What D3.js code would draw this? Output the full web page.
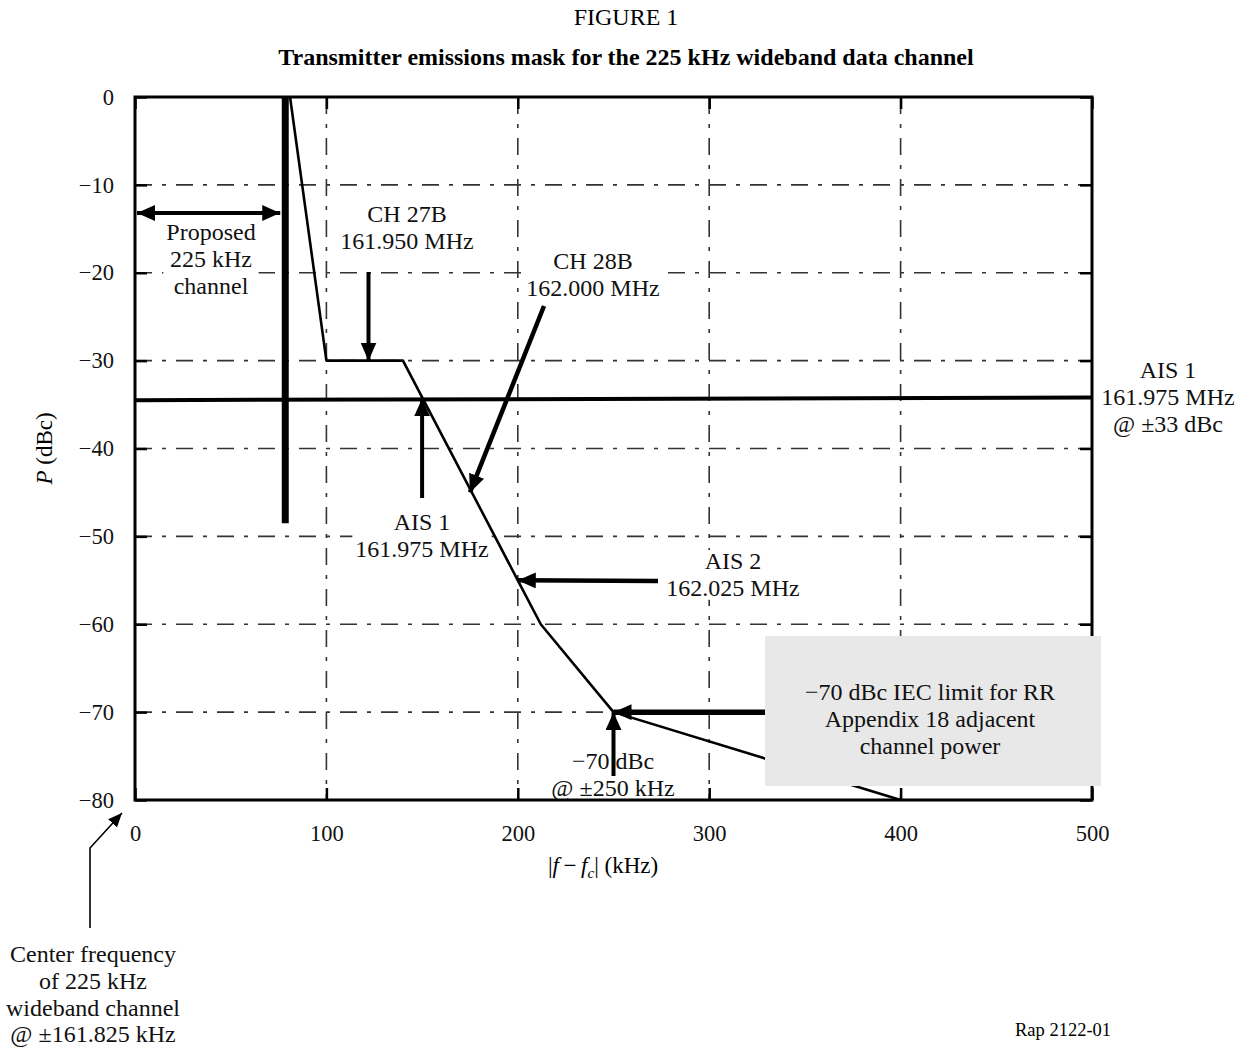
<!DOCTYPE html>
<html>
<head>
<meta charset="utf-8">
<script src="https://cdn.jsdelivr.net/npm/d3@7"></script>
<style>
  body { margin: 0; background: #fff; }
  svg { display: block; font-family: "Liberation Serif", "DejaVu Serif", serif; }
</style>
</head>
<body>
<svg id="chart" width="1253" height="1048"></svg>
<script>
// Emission mask (|f - fc| in kHz vs relative power in dBc)
const maskKHz = [81, 100, 140, 200, 212, 250, 400];
const maskDBc = [0, -30, -30, -55, -60, -70, -80];

// Edge of the proposed 225 kHz channel (vertical bar)
const channelEdgeKHz = 78.5;
const channelBarDBc = [0, -48.5];

// AIS 1 level line across the plot
const aisLineKHz = [0, 500];
const aisLineDBc = [-34.5, -34.2];

// Axis ticks
const xTicks = [0, 100, 200, 300, 400, 500];
const yTicks = [0, -10, -20, -30, -40, -50, -60, -70, -80];
const gridX = [100, 200, 300, 400];
const gridY = [-10, -20, -30, -40, -50, -60, -70];

const svg = d3.select("#chart");
const x = d3.scaleLinear().domain([0, 500]).range([135, 1092]);
const y = d3.scaleLinear().domain([-80, 0]).range([800, 97]);
const fmt = d => d < 0 ? "\u2212" + Math.abs(d) : String(d);

// Titles
svg.append("text").attr("x", 626).attr("y", 25).attr("text-anchor", "middle")
  .attr("font-size", 24).text("FIGURE 1");
svg.append("text").attr("x", 626).attr("y", 65).attr("text-anchor", "middle")
  .attr("font-size", 24).attr("font-weight", "bold")
  .text("Transmitter emissions mask for the 225 kHz wideband data channel");

// Dash-dot grid
const grid = svg.append("g").attr("stroke", "#333").attr("stroke-width", 1.6)
  .attr("stroke-dasharray", "17,10,4,10").attr("fill", "none");
grid.selectAll("line.gx").data(gridX).join("line")
  .attr("x1", d => x(d)).attr("x2", d => x(d)).attr("y1", y(0)).attr("y2", y(-80));
grid.selectAll("line.gy").data(gridY).join("line")
  .attr("y1", d => y(d)).attr("y2", d => y(d)).attr("x1", x(0)).attr("x2", x(500));

// Axes with inward ticks
const tickStyle = g => {
  g.select(".domain").remove();
  g.selectAll(".tick line").attr("stroke", "#000").attr("stroke-width", 2.5);
  g.selectAll(".tick text").attr("font-size", 22.5).attr("fill", "#111")
    .attr("font-family", "Liberation Serif, serif");
};
svg.append("g").attr("transform", `translate(${x(0)},0)`)
  .call(d3.axisLeft(y).tickValues(yTicks).tickFormat(fmt).tickSizeInner(-12).tickSizeOuter(0).tickPadding(21))
  .call(tickStyle);
svg.append("g").attr("transform", `translate(${x(500)},0)`)
  .call(d3.axisRight(y).tickValues(yTicks).tickFormat("").tickSizeInner(-12).tickSizeOuter(0))
  .call(tickStyle);
svg.append("g").attr("transform", `translate(0,${y(-80)})`)
  .call(d3.axisBottom(x).tickValues(xTicks).tickFormat(d => d).tickSizeInner(-12).tickSizeOuter(0).tickPadding(25))
  .call(tickStyle);
svg.append("g").attr("transform", `translate(0,${y(0)})`)
  .call(d3.axisTop(x).tickValues(xTicks).tickFormat("").tickSizeInner(-12).tickSizeOuter(0))
  .call(tickStyle);

// Axis titles
const yt = svg.append("text").attr("transform", `translate(52,${y(-40)}) rotate(-90)`)
  .attr("text-anchor", "middle").attr("font-size", 23);
yt.append("tspan").attr("font-style", "italic").text("P");
yt.append("tspan").text(" (dBc)");
const xt = svg.append("text").attr("x", 603).attr("y", 873).attr("text-anchor", "middle").attr("font-size", 23);
xt.append("tspan").text("|");
xt.append("tspan").attr("font-style", "italic").text("f");
xt.append("tspan").text("\u2009\u2212\u2009");
xt.append("tspan").attr("font-style", "italic").text("f");
xt.append("tspan").attr("font-style", "italic").attr("font-size", 15).attr("dy", 5).text("c");
xt.append("tspan").attr("dy", -5).text("| (kHz)");

// Text labels; most sit on a white patch so the grid does not run through them
const labelLayer = svg.append("g");
function label(cx, y0, lines, opts) {
  const o = opts || {};
  const g = labelLayer.append("g");
  const bg = g.append("rect").attr("fill", "#fff");
  const t = g.append("text").attr("text-anchor", "middle").attr("font-size", o.size || 24).attr("fill", "#111");
  lines.forEach((s, i) => t.append("tspan").attr("x", cx).attr("y", y0 + i * 26.8).text(s));
  if (o.bg === false) { bg.remove(); return; }
  const b = t.node().getBBox();
  bg.attr("x", b.x - 3).attr("y", b.y + 2).attr("width", b.width + 6).attr("height", b.height - 3);
}

label(211, 240, ["Proposed", "225 kHz", "channel"]);
label(407, 222, ["CH 27B", "161.950 MHz"]);
label(593, 269, ["CH 28B", "162.000 MHz"]);
label(422, 530, ["AIS 1", "161.975 MHz"]);
label(733, 569, ["AIS 2", "162.025 MHz"]);
label(613, 769, ["\u221270 dBc", "@ \u00b1250 kHz"], { bg: false });

// Plot frame
svg.append("rect").attr("x", x(0)).attr("y", y(0))
  .attr("width", x(500) - x(0)).attr("height", y(-80) - y(0))
  .attr("fill", "none").attr("stroke", "#000").attr("stroke-width", 3);

// Channel edge bar
svg.append("line").attr("x1", x(channelEdgeKHz)).attr("x2", x(channelEdgeKHz))
  .attr("y1", y(channelBarDBc[0])).attr("y2", y(channelBarDBc[1]))
  .attr("stroke", "#000").attr("stroke-width", 7);

// AIS 1 level line
svg.append("line").attr("x1", x(aisLineKHz[0])).attr("x2", x(aisLineKHz[1]))
  .attr("y1", y(aisLineDBc[0])).attr("y2", y(aisLineDBc[1]))
  .attr("stroke", "#000").attr("stroke-width", 4);

// Emission mask
const line = d3.line().x(d => x(d[0])).y(d => y(d[1]));
svg.append("path").datum(d3.zip(maskKHz, maskDBc)).attr("d", line)
  .attr("fill", "none").attr("stroke", "#000").attr("stroke-width", 2.6).attr("stroke-linejoin", "round");

// Arrow markers
const defs = svg.append("defs");
function marker(id, w, h) {
  defs.append("marker").attr("id", id).attr("viewBox", `0 0 ${w} ${h}`)
    .attr("refX", w).attr("refY", h / 2).attr("markerWidth", w).attr("markerHeight", h)
    .attr("markerUnits", "userSpaceOnUse").attr("orient", "auto-start-reverse")
    .append("path").attr("d", `M0,0 L${w},${h / 2} L0,${h} Z`).attr("fill", "#000");
}
marker("ah", 18, 16);
marker("ahs", 14, 12);

function arrow(x1, y1, x2, y2, w, both, m) {
  const l = svg.append("line").attr("x1", x1).attr("y1", y1).attr("x2", x2).attr("y2", y2)
    .attr("stroke", "#000").attr("stroke-width", w)
    .attr("marker-end", `url(#${m || "ah"})`);
  if (both) l.attr("marker-start", `url(#${m || "ah"})`);
}

// Proposed channel width
arrow(x(0) + 2, 213, x(channelEdgeKHz) - 5, 213, 4, true);
// CH 27B
arrow(x(122), 272, x(122), y(-30), 4);
// CH 28B
arrow(544, 306, x(175), y(-45), 4.5);
// AIS 1 at the mask
arrow(x(150), 498, x(150), y(-34.3), 4);
// AIS 2
arrow(658, 581, x(200), y(-55), 4.5);
// -70 dBc at 250 kHz
arrow(x(250), 776, x(250), y(-70), 4);

// IEC limit box and arrow
arrow(768, y(-70), x(250), y(-70), 5.5);
svg.append("rect").attr("x", 765).attr("y", 636).attr("width", 336).attr("height", 150).attr("fill", "#e8e8e8");
svg.append("g").call(() => {
  const t = svg.append("text").attr("text-anchor", "middle").attr("font-size", 24).attr("fill", "#111");
  ["\u221270 dBc IEC limit for RR", "Appendix 18 adjacent", "channel power"]
    .forEach((s, i) => t.append("tspan").attr("x", 930).attr("y", 700 + i * 26.8).text(s));
});

// AIS 1 level annotation
label(1168, 378, ["AIS 1", "161.975 MHz", "@ \u00b133 dBc"], { bg: false });

// Centre frequency pointer
svg.append("path").attr("d", "M90,928 L90,848 L122,813")
  .attr("fill", "none").attr("stroke", "#000").attr("stroke-width", 1.6)
  .attr("marker-end", "url(#ahs)");
label(93, 962, ["Center frequency", "of 225 kHz", "wideband channel", "@ \u00b1161.825 kHz"], { bg: false });

// Figure reference
svg.append("text").attr("x", 1063).attr("y", 1036).attr("text-anchor", "middle")
  .attr("font-size", 18.5).text("Rap 2122-01");
</script>
</body>
</html>
